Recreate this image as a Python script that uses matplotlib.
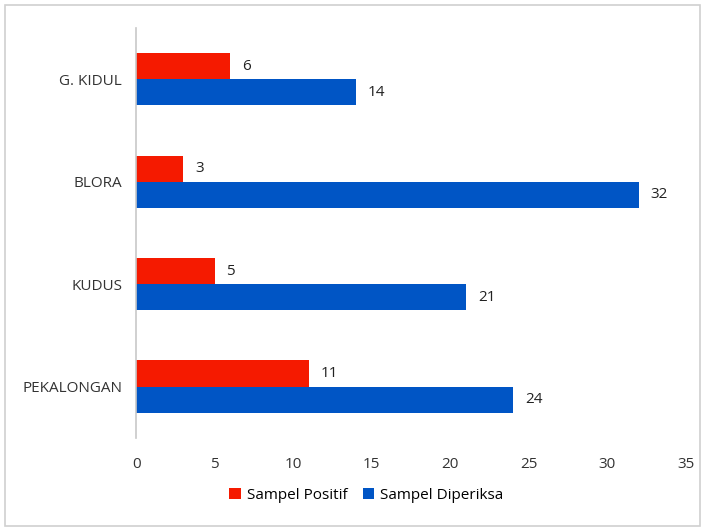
import matplotlib.pyplot as plt
import numpy as np
from matplotlib.patches import Rectangle

# data
categories = ["PEKALONGAN", "KUDUS", "BLORA", "G. KIDUL"]
positif = [11, 5, 3, 6]
diperiksa = [24, 21, 32, 14]

plt.rcParams["font.family"] = ["Open Sans", "DejaVu Sans"]

fig = plt.figure(figsize=(7.05, 5.30), dpi=100)
ax = fig.add_axes([0.193, 0.174, 0.780, 0.773])

y = np.arange(len(categories))
h = 0.255
red = "#F51A00"
blue = "#0055C5"
b1 = ax.barh(y + h / 2, positif, height=h, color=red, label="Sampel Positif")
b2 = ax.barh(y - h / 2, diperiksa, height=h, color=blue, label="Sampel Diperiksa")

for bars, vals in ((b1, positif), (b2, diperiksa)):
    for bar, v in zip(bars, vals):
        ax.text(v + 0.75, bar.get_y() + bar.get_height() / 2, str(v),
                va="center", ha="left", fontsize=11, color="#222222")

ax.set_xlim(0, 35)
ax.set_ylim(-0.5, len(categories) - 0.5)
ax.set_xticks(range(0, 36, 5))
ax.set_yticks(y)
ax.set_yticklabels(categories)
ax.tick_params(length=0, labelsize=11, colors="#333333")
ax.tick_params(axis="x", pad=14)
ax.tick_params(axis="y", pad=10)
for s in ["top", "right", "bottom"]:
    ax.spines[s].set_visible(False)
ax.spines["left"].set_color("#C8C8C8")
ax.spines["left"].set_linewidth(1.2)

fig.legend(loc="lower center", bbox_to_anchor=(0.52, 0.025), ncol=2, frameon=False,
           fontsize=11, handlelength=0.75, handleheight=0.75, columnspacing=1.0,
           handletextpad=0.4)

fig.patches.append(Rectangle((0.007, 0.008), 0.986, 0.983, transform=fig.transFigure,
                             fill=False, edgecolor="#D0D0D0", linewidth=1.2))

fig.savefig("out.png", dpi=100)
